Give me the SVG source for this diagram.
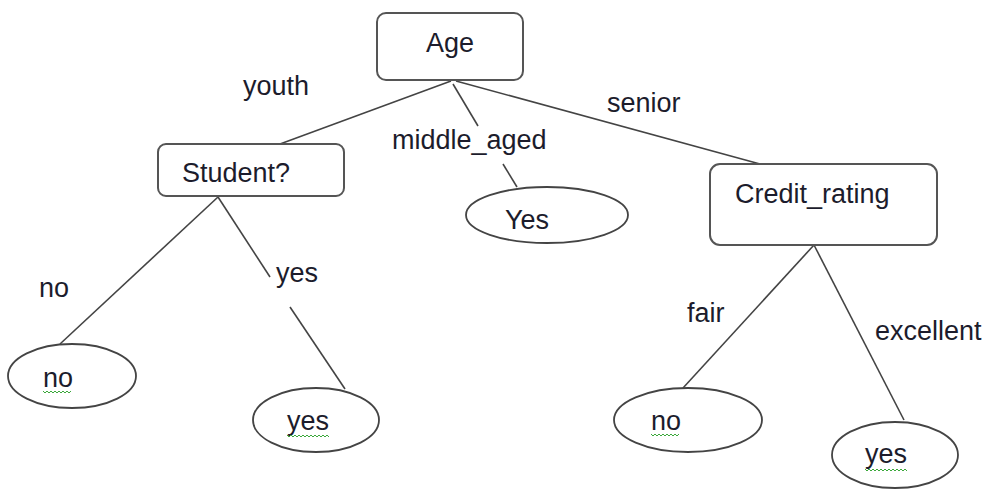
<svg xmlns="http://www.w3.org/2000/svg" width="993" height="489" viewBox="0 0 993 489">
<style>
.box{fill:#fff;stroke:#555;stroke-width:2}
.leaf{fill:#fff;stroke:#444;stroke-width:1.8}
.edge{stroke:#444;stroke-width:1.6;fill:none}
text{font-family:"Liberation Sans",Arial,sans-serif;font-size:27px;fill:#1c1c2c}
.lbl{text-anchor:start}
.sq{fill:none;stroke:#3aa83a;stroke-width:1}
</style>
<rect width="993" height="489" fill="#fff"/>
<g id="connectors">
<line class="edge" x1="451" y1="81" x2="280" y2="144"/>
<line class="edge" x1="453" y1="84" x2="478" y2="126"/>
<line class="edge" x1="503" y1="164" x2="517" y2="187"/>
<line class="edge" x1="456" y1="81" x2="760" y2="164"/>
<line class="edge" x1="218" y1="197" x2="60" y2="344"/>
<line class="edge" x1="218" y1="197" x2="270" y2="277"/>
<line class="edge" x1="290" y1="307" x2="345" y2="389"/>
<line class="edge" x1="814" y1="245" x2="683" y2="388"/>
<line class="edge" x1="814" y1="245" x2="904" y2="420"/>
<text x="243" y="95">youth</text>
<text x="392" y="149">middle_aged</text>
<text x="607" y="112">senior</text>
<text x="39" y="297">no</text>
<text x="276" y="282">yes</text>
<text x="687" y="322">fair</text>
<text x="875" y="340">excellent</text>
</g>
<g id="age">
<rect class="box" x="377" y="13" width="146" height="67" rx="9"/>
<text x="450" y="52" text-anchor="middle">Age</text>
</g>
<g id="student">
<rect class="box" x="158" y="144" width="186" height="52" rx="8"/>
<text x="182" y="182">Student?</text>
</g>
<g id="yes-middle">
<ellipse class="leaf" cx="547" cy="215" rx="81" ry="28"/>
<text x="505" y="229">Yes</text>
</g>
<g id="credit">
<rect class="box" x="710" y="164" width="227" height="81" rx="10"/>
<text x="735" y="203">Credit_rating</text>
</g>
<g id="no-left">
<ellipse class="leaf" cx="72" cy="376" rx="64" ry="32"/>
<text x="43" y="387">no</text>
<path class="sq" d="M43 391 l2 2 l2 -2 l2 2 l2 -2 l2 2 l2 -2 l2 2 l2 -2 l2 2 l2 -2 l2 2 l2 -2 l2 2 l2 -2"/>
</g>
<g id="yes-left">
<ellipse class="leaf" cx="316" cy="420" rx="63" ry="32"/>
<text x="287" y="430">yes</text>
<path class="sq" d="M287 435 l2 2 l2 -2 l2 2 l2 -2 l2 2 l2 -2 l2 2 l2 -2 l2 2 l2 -2 l2 2 l2 -2 l2 2 l2 -2 l2 2 l2 -2 l2 2 l2 -2 l2 2 l2 -2 l2 2"/>
</g>
<g id="no-right">
<ellipse class="leaf" cx="688" cy="420" rx="74" ry="32"/>
<text x="651" y="430">no</text>
<path class="sq" d="M651 434 l2 2 l2 -2 l2 2 l2 -2 l2 2 l2 -2 l2 2 l2 -2 l2 2 l2 -2 l2 2 l2 -2 l2 2 l2 -2"/>
</g>
<g id="yes-right">
<ellipse class="leaf" cx="895" cy="455" rx="63" ry="33"/>
<text x="865" y="463">yes</text>
<path class="sq" d="M865 469 l2 2 l2 -2 l2 2 l2 -2 l2 2 l2 -2 l2 2 l2 -2 l2 2 l2 -2 l2 2 l2 -2 l2 2 l2 -2 l2 2 l2 -2 l2 2 l2 -2 l2 2 l2 -2 l2 2"/>
</g>
</svg>
